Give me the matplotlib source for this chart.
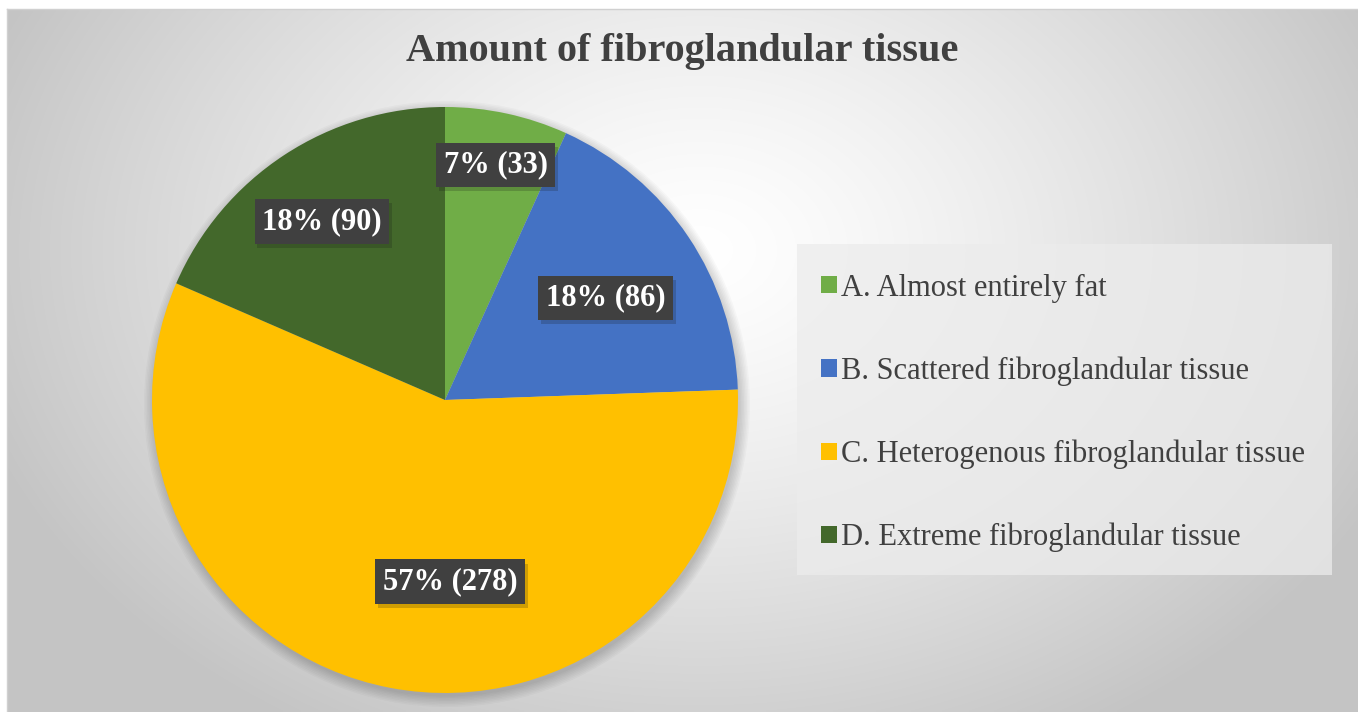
import numpy as np
import matplotlib
matplotlib.use("Agg")
import matplotlib.pyplot as plt
import matplotlib.patheffects as pe
from matplotlib.patches import Rectangle, Circle

# Data
categories = ["A. Almost entirely fat",
              "B. Scattered fibroglandular tissue",
              "C. Heterogenous fibroglandular tissue",
              "D. Extreme fibroglandular tissue"]
counts = [33, 86, 278, 90]
percents = [7, 18, 57, 18]
colors = ["#70AD47", "#4472C4", "#FFC000", "#43682B"]

W, H = 1358, 712
fig = plt.figure(figsize=(W / 100, H / 100), dpi=100, facecolor="white")
ax = fig.add_axes([0, 0, 1, 1])

# radial background gradient (chart area starts at x=7, y=9 from top)
x0, ytop = 7, H - 9
gx = np.linspace(x0, W, 400)
gy = np.linspace(0, ytop, 220)
XX, YY = np.meshgrid(gx, gy)
cx, cy = 700, H - 250
d = np.sqrt(((XX - cx) / 760) ** 2 + ((YY - cy) / 560) ** 2)
d = np.clip(d, 0, 1) ** 1.3
val = 1.0 - d * (1.0 - 0.77)
img = np.dstack([val, val, val])
ax.imshow(img, extent=[x0, W, 0, ytop], origin="lower", zorder=0,
          interpolation="bilinear", aspect="auto")
ax.plot([x0, W], [ytop, ytop], color="#d0d0d0", lw=1, zorder=1)
ax.plot([x0, x0], [0, ytop], color="#d0d0d0", lw=1, zorder=1)

# pie
pcx, pcy, R = 445, H - 400, 293
for k in range(8):
    ax.add_patch(Circle((pcx + 2, pcy - 4), R + 10 - k * 1.5,
                        facecolor="black", alpha=0.025, lw=0, zorder=2))
wedges, _ = ax.pie(counts, colors=colors, startangle=90, counterclock=False,
                   center=(pcx, pcy), radius=R,
                   wedgeprops=dict(linewidth=0, zorder=3))

# data labels: radius fraction and angle nudge per slice
lab_r = [0.82, 0.65, 0.62, 0.74]
lab_da = [0, -1.5, 12.4, 1.3]
for w, p, c, rf, da in zip(wedges, percents, counts, lab_r, lab_da):
    ang = np.deg2rad((w.theta1 + w.theta2) / 2 + da)
    tx = pcx + rf * R * np.cos(ang)
    ty = pcy + rf * R * np.sin(ang)
    t = ax.text(tx, ty, f"{p}% ({c})", ha="center", va="center",
                fontsize=22, family="Liberation Serif", weight="bold",
                color="white", zorder=5,
                bbox=dict(boxstyle="square,pad=0.25", facecolor="#404040",
                          edgecolor="none"))
    t.get_bbox_patch().set_path_effects(
        [pe.SimplePatchShadow(offset=(2, -3), alpha=0.2), pe.Normal()])

# title
ax.text(682, H - 52, "Amount of fibroglandular tissue", ha="center",
        va="center", fontsize=29, family="Liberation Serif", weight="bold",
        color="#404040", zorder=5)

# legend
ax.add_patch(Rectangle((797, H - 575), 535, 331, facecolor="#ececec",
                       edgecolor="none", alpha=0.75, zorder=3))
leg = ax.legend(wedges, categories, loc="center left",
                bbox_to_anchor=(806 / W, (H - 413) / H),
                bbox_transform=fig.transFigure, frameon=False,
                prop=dict(family="Liberation Serif", size=22),
                labelcolor="#404040", handlelength=0.5, handleheight=0.5,
                handletextpad=0.15, labelspacing=1.76, borderpad=0)
leg.set_zorder(6)

ax.set_xlim(0, W)
ax.set_ylim(0, H)
ax.set_aspect("auto")
ax.axis("off")

fig.savefig("out.png", dpi=100, facecolor="white")
